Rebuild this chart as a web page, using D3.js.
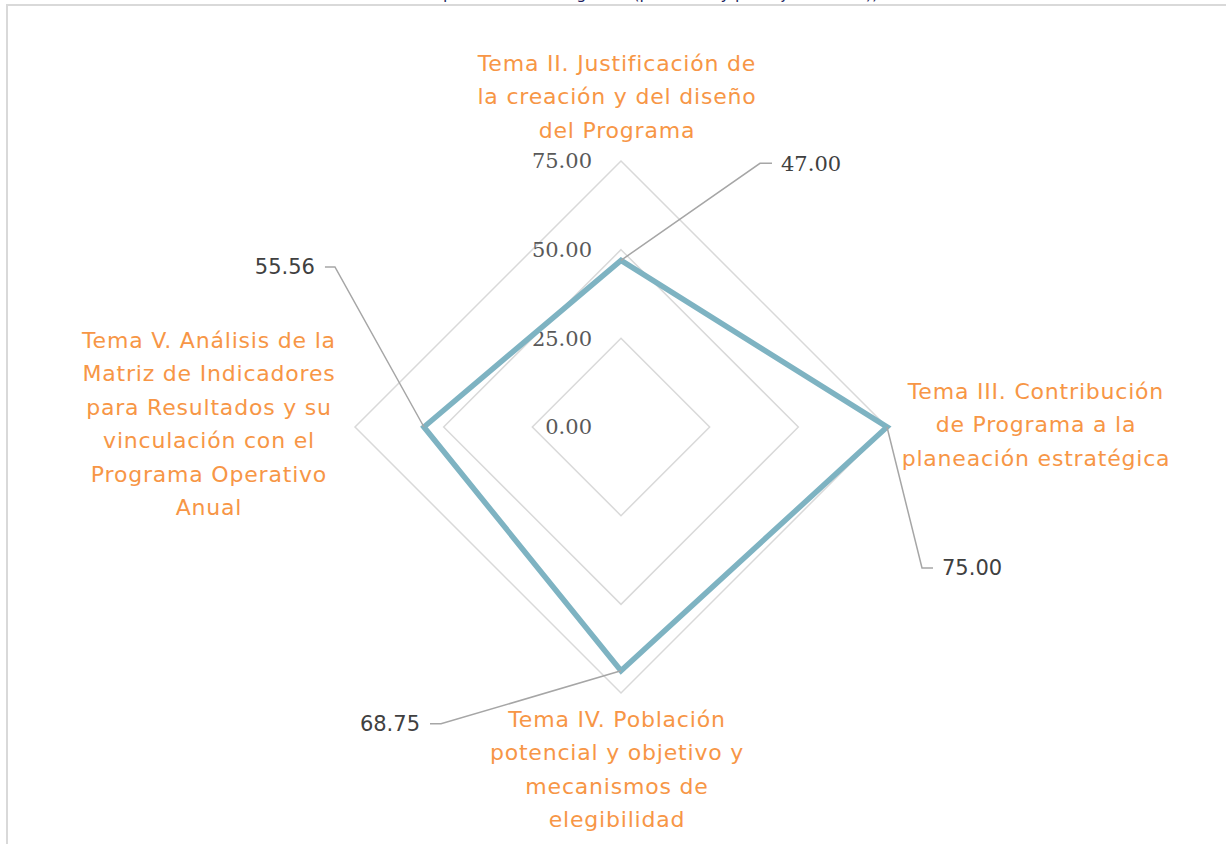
<!DOCTYPE html>
<html><head><meta charset="utf-8">
<script src="https://cdn.jsdelivr.net/npm/d3@7"></script>
<style>html,body{margin:0;padding:0;background:#fff;overflow:hidden}</style>
</head><body>
<svg id="chart" width="1226" height="844"></svg>
<script>
const categories = [
  ["Tema II. Justificación de","la creación y del diseño","del Programa"],
  ["Tema III. Contribución","de Programa a la","planeación estratégica"],
  ["Tema IV. Población","potencial y objetivo y","mecanismos de","elegibilidad"],
  ["Tema V. Análisis de la","Matriz de Indicadores","para Resultados y su","vinculación con el","Programa Operativo","Anual"]
];
const values = [47.00, 75.00, 68.75, 55.56];
const valueLabels = ["47.00","75.00","68.75","55.56"];
const ticks = [0, 25, 50, 75];
const tickLabels = ["0.00","25.00","50.00","75.00"];

const svg = d3.select("#chart");
const cx = 621, cy = 427;
const r = d3.scaleLinear().domain([0, 75]).range([0, 266]);
const angle = d3.scaleLinear().domain([0, categories.length]).range([0, 2*Math.PI]);
const pt = (i, v) => [cx + r(v)*Math.sin(angle(i)), cy - r(v)*Math.cos(angle(i))];

// frame
svg.append("path").attr("d", `M7,844 V5 H1226`).attr("fill","none").attr("stroke","#d9d9d9").attr("stroke-width",2);
// cut title (only descenders visible, as in the reference)
svg.append("text").attr("x", 575).attr("y", -1).attr("text-anchor","middle")
  .attr("font-family","DejaVu Sans").attr("font-size",16).attr("fill","#1f1f5f")
  .text("Gráfica 1. Valoración por tema del Programa (promedio y puntaje máximo))");

// grid
const line = d3.line();
ticks.filter(t => t > 0).forEach(t => {
  const pts = categories.map((c, i) => pt(i, t));
  svg.append("path").attr("d", line(pts) + "Z").attr("fill","none")
    .attr("stroke","#d9d9d9").attr("stroke-width",1.5);
});
// tick labels
ticks.forEach((t, k) => {
  svg.append("text").attr("x", cx - 29).attr("y", cy - r(t)).attr("dy","0.35em")
    .attr("text-anchor","end").attr("font-family","DejaVu Serif").attr("font-size",21)
    .attr("fill","#595959").text(tickLabels[k]);
});

// series
const spts = values.map((v, i) => pt(i, v));
svg.append("path").attr("d", line(spts) + "Z").attr("fill","none")
  .attr("stroke","#7eb3c2").attr("stroke-width",5.5).attr("stroke-linejoin","miter");

// leader lines & value labels (offsets relative to point)
const leaders = [
  {elbow:[139,-97], end:[151,-97], anchor:"start", font:"DejaVu Serif"},
  {elbow:[35,141], end:[46,141], anchor:"start", font:"DejaVu Sans"},
  {elbow:[-180,53], end:[-191,53], anchor:"end", font:"DejaVu Sans"},
  {elbow:[-89,-160], end:[-99,-160], anchor:"end", font:"DejaVu Sans"}
];
spts.forEach((p, i) => {
  const L = leaders[i];
  const e = [p[0]+L.elbow[0], p[1]+L.elbow[1]], f = [p[0]+L.end[0], p[1]+L.end[1]];
  svg.append("path").attr("d", line([p, e, f])).attr("fill","none")
    .attr("stroke","#a6a6a6").attr("stroke-width",1.5);
  svg.append("text").attr("x", f[0] + (L.anchor==="start"?9:-10)).attr("y", f[1]).attr("dy","0.35em")
    .attr("text-anchor", L.anchor).attr("font-family", L.font).attr("font-size",21)
    .attr("fill","#404040").text(valueLabels[i]);
});

// category labels
const catPos = [[617, 63], [1036, 391], [617, 719], [209, 340]];
categories.forEach((lines, i) => {
  const t = svg.append("text").attr("text-anchor","middle")
    .attr("font-family","DejaVu Sans").attr("font-size",22).attr("letter-spacing","0.8px")
    .attr("fill","#f79646");
  lines.forEach((s, j) => {
    t.append("tspan").attr("x", catPos[i][0]).attr("y", catPos[i][1] + j*33.5).attr("dy","0.35em").text(s);
  });
});
</script>
</body></html>
